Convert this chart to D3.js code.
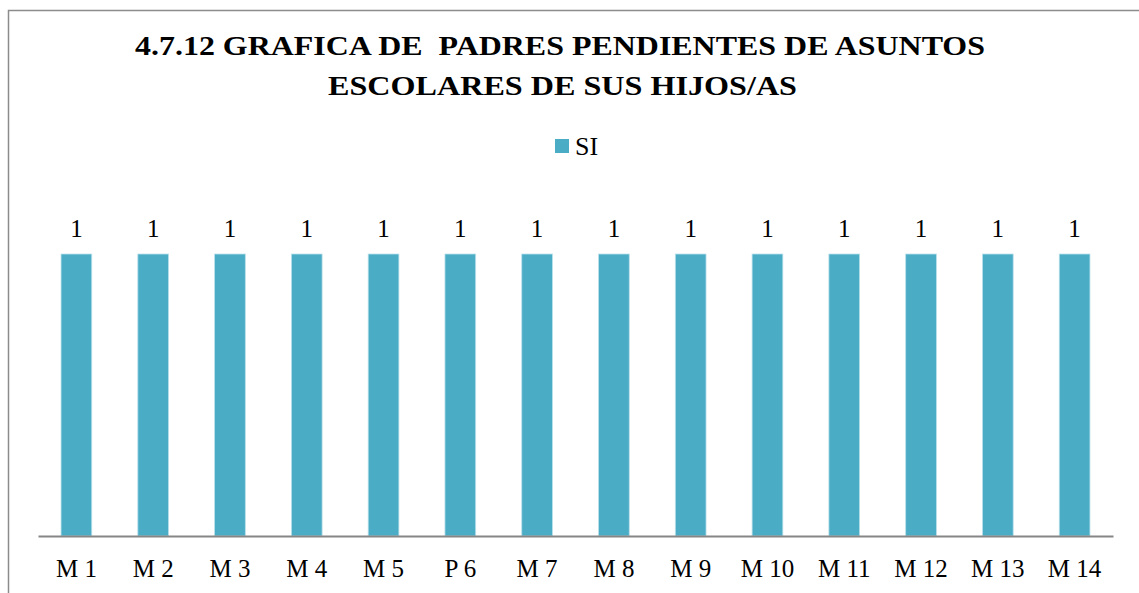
<!DOCTYPE html>
<html>
<head>
<meta charset="utf-8">
<script src="https://cdn.jsdelivr.net/npm/d3@7"></script>
<style>
  body { margin: 0; background: #fff; }
</style>
</head>
<body>
<svg width="1139" height="593"></svg>
<script>
var categories = ["M 1", "M 2", "M 3", "M 4", "M 5", "P 6", "M 7", "M 8", "M 9", "M 10", "M 11", "M 12", "M 13", "M 14"];
var siValues = [1, 1, 1, 1, 1, 1, 1, 1, 1, 1, 1, 1, 1, 1];
var seriesName = "SI";
var titleLines = ["4.7.12 GRAFICA DE  PADRES PENDIENTES DE ASUNTOS", "ESCOLARES DE SUS HIJOS/AS"];

var svg = d3.select("svg"),
    width = +svg.attr("width"),
    height = +svg.attr("height");

var barColor = "#4BACC6";
var serif = "'Liberation Serif', 'Times New Roman', serif";

// chart frame (runs off the right and bottom edge)
svg.append("rect")
    .attr("x", 8.5).attr("y", 10.5)
    .attr("width", 1200).attr("height", 700)
    .attr("fill", "none")
    .attr("stroke", "#8c8c8c")
    .attr("stroke-width", 1.5);

// title - the original is a bit wider than the font, so stretch it
var titleWidths = [850, 469];
svg.append("g").selectAll("text")
    .data(titleLines)
    .enter().append("text")
      .attr("x", function(d, i) { return i ? 562.5 : 560; })
      .attr("y", function(d, i) { return 55 + i * 40; })
      .attr("text-anchor", "middle")
      .attr("textLength", function(d, i) { return titleWidths[i]; })
      .attr("lengthAdjust", "spacingAndGlyphs")
      .style("font-family", serif)
      .style("font-size", "26.5px")
      .style("font-weight", "bold")
      .style("white-space", "pre")
      .text(function(d) { return d; });

// legend
var legend = svg.append("g");
legend.append("rect")
    .attr("x", 555).attr("y", 139)
    .attr("width", 14).attr("height", 14)
    .attr("fill", barColor);
legend.append("text")
    .attr("x", 575).attr("y", 155)
    .style("font-family", serif)
    .style("font-size", "26px")
    .text(seriesName);

var x = d3.scaleBand()
    .domain(categories)
    .range([38, 1113])
    .paddingInner(0.6)
    .paddingOuter(0.3);

var y = d3.scaleLinear()
    .domain([0, 1.2])
    .range([536, 197.6]);

svg.append("g").selectAll("rect")
    .data(siValues)
    .enter().append("rect")
      .attr("x", function(d, i) { return x(categories[i]); })
      .attr("y", function(d) { return y(d); })
      .attr("width", x.bandwidth())
      .attr("height", function(d) { return y(0) - y(d); })
      .attr("fill", barColor)
      .attr("stroke", "#b9e0ea")
      .attr("stroke-width", 0.8);

// value labels
svg.append("g").selectAll("text")
    .data(siValues)
    .enter().append("text")
      .attr("x", function(d, i) { return x(categories[i]) + x.bandwidth() / 2; })
      .attr("y", function(d) { return y(d) - 17; })
      .attr("text-anchor", "middle")
      .style("font-family", serif)
      .style("font-size", "25px")
      .text(function(d) { return d; });

// category axis
var xAxis = svg.append("g")
    .attr("transform", "translate(0,536)")
    .call(d3.axisBottom(x).tickSize(0).tickPadding(23));
xAxis.select(".domain").attr("stroke", "#868686").attr("stroke-width", 2);
xAxis.selectAll("text")
    .style("font-family", serif)
    .style("font-size", "25px")
    .attr("fill", "#000");
</script>
</body>
</html>
